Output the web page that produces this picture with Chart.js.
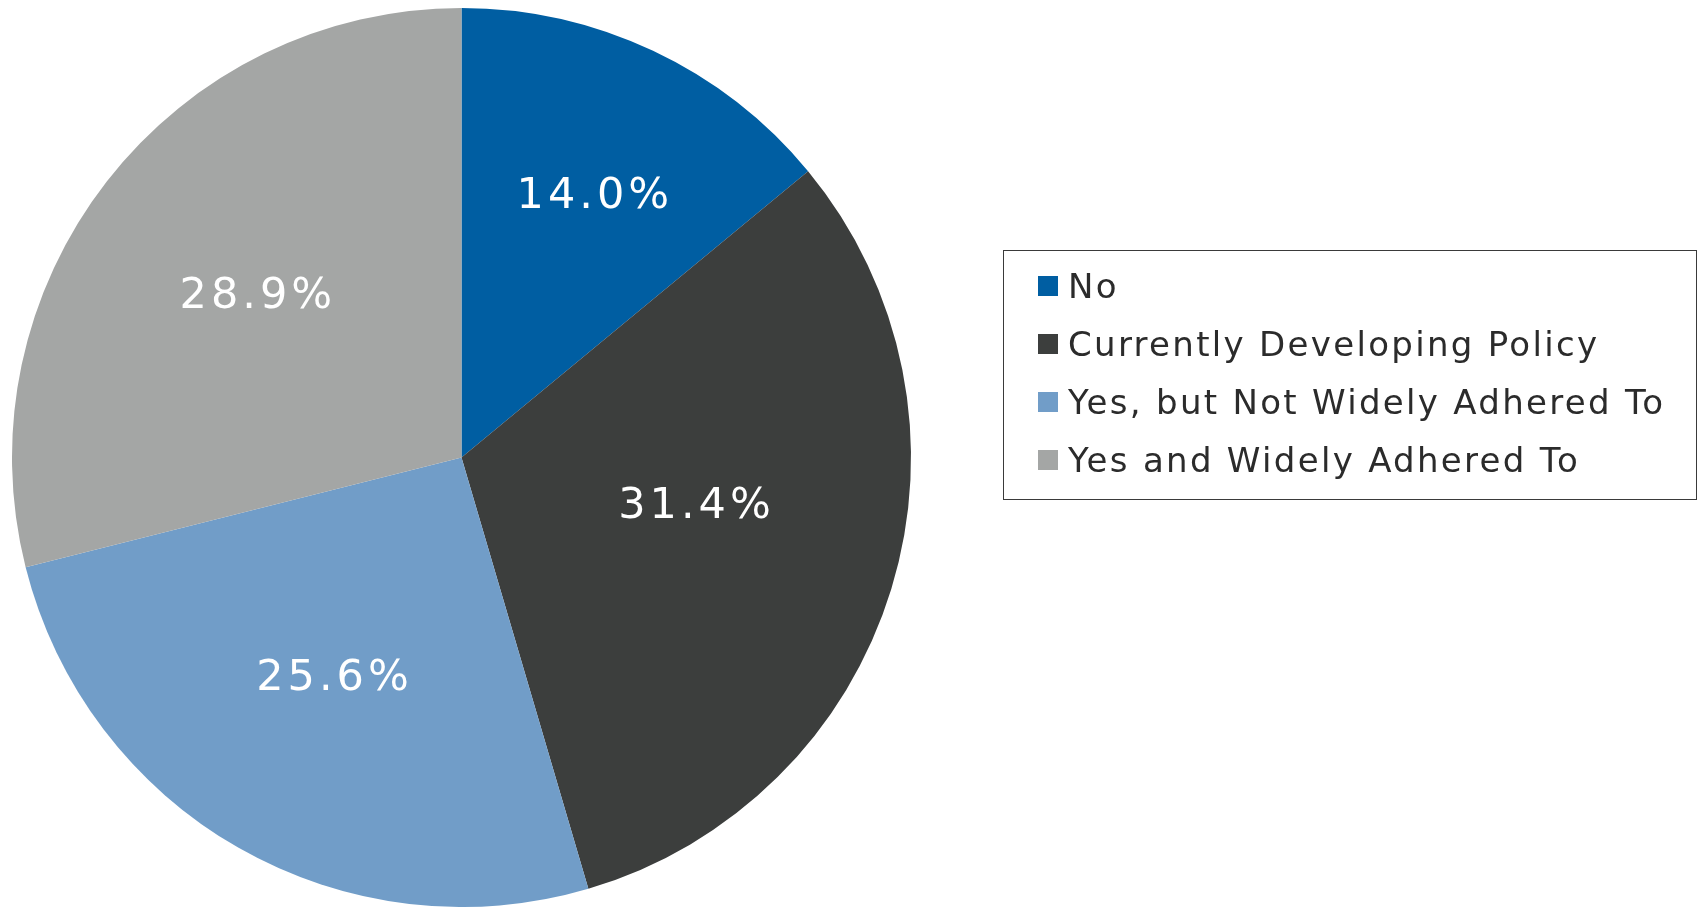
<!DOCTYPE html>
<html>
<head>
<meta charset="utf-8">
<script src="https://cdn.jsdelivr.net/npm/chart.js@4/dist/chart.umd.min.js"></script>
<style>
  html, body { margin: 0; padding: 0; background: #fff; }
  #wrap { position: relative; width: 1700px; height: 907px; overflow: hidden; }
  #pie { position: absolute; left: 0; top: 0; }
  #legend {
    position: absolute; left: 1003px; top: 250px;
    width: 694px; height: 250px;
    border: 1.5px solid #3a3a3a;
    box-sizing: border-box;
    padding: 6px 0 0 34px;
    font-family: "DejaVu Sans", sans-serif;
    font-size: 34px; letter-spacing: 2.3px; color: #2b2b2b;
  }
  .row { height: 58px; display: flex; align-items: center; white-space: nowrap; }
  .sw { width: 20px; height: 20px; margin-right: 10px; flex: none; }
</style>
</head>
<body>
<div id="wrap">
  <canvas id="pie" width="1700" height="907"></canvas>
  <div id="legend"></div>
</div>
<script>
  const labels = ['No', 'Currently Developing Policy', 'Yes, but Not Widely Adhered To', 'Yes and Widely Adhered To'];
  const values = [14.0, 31.4, 25.6, 28.9];
  const colors = ['#005ea2', '#3c3e3d', '#719dc8', '#a4a6a5'];

  // where the % text sits: fraction of radius, and a nudge off the mid angle (deg)
  const labelRadius = [0.65, 0.53, 0.57, 0.58];
  const labelShift = [1.5, -5, 0.5, 0];

  // legend as plain html rows
  const legendEl = document.getElementById('legend');
  labels.forEach(function (name, i) {
    const row = document.createElement('div');
    row.className = 'row';
    const sw = document.createElement('span');
    sw.className = 'sw';
    sw.style.background = colors[i];
    row.appendChild(sw);
    row.appendChild(document.createTextNode(name));
    legendEl.appendChild(row);
  });

  // white percentage text inside each slice
  const sliceLabels = {
    id: 'sliceLabels',
    afterDatasetsDraw(chart) {
      const ctx = chart.ctx;
      const meta = chart.getDatasetMeta(0);
      ctx.save();
      ctx.fillStyle = '#ffffff';
      ctx.font = '43px "DejaVu Sans", sans-serif';
      ctx.letterSpacing = '4px';
      ctx.textAlign = 'center';
      ctx.textBaseline = 'middle';
      meta.data.forEach(function (arc, i) {
        const mid = (arc.startAngle + arc.endAngle) / 2 + labelShift[i] * Math.PI / 180;
        const r = arc.outerRadius * labelRadius[i];
        const x = arc.x + Math.cos(mid) * r + 2;
        const y = arc.y + Math.sin(mid) * r;
        ctx.fillText(values[i].toFixed(1) + '%', x, y);
      });
      ctx.restore();
    }
  };

  new Chart(document.getElementById('pie'), {
    type: 'pie',
    data: {
      labels: labels,
      datasets: [{
        data: values,
        backgroundColor: colors,
        borderWidth: 0
      }]
    },
    options: {
      responsive: false,
      animation: false,
      layout: { padding: { left: 0, top: 8, right: 777, bottom: 0 } },
      plugins: {
        legend: { display: false },
        tooltip: { enabled: false }
      }
    },
    plugins: [sliceLabels]
  });
</script>
</body>
</html>
